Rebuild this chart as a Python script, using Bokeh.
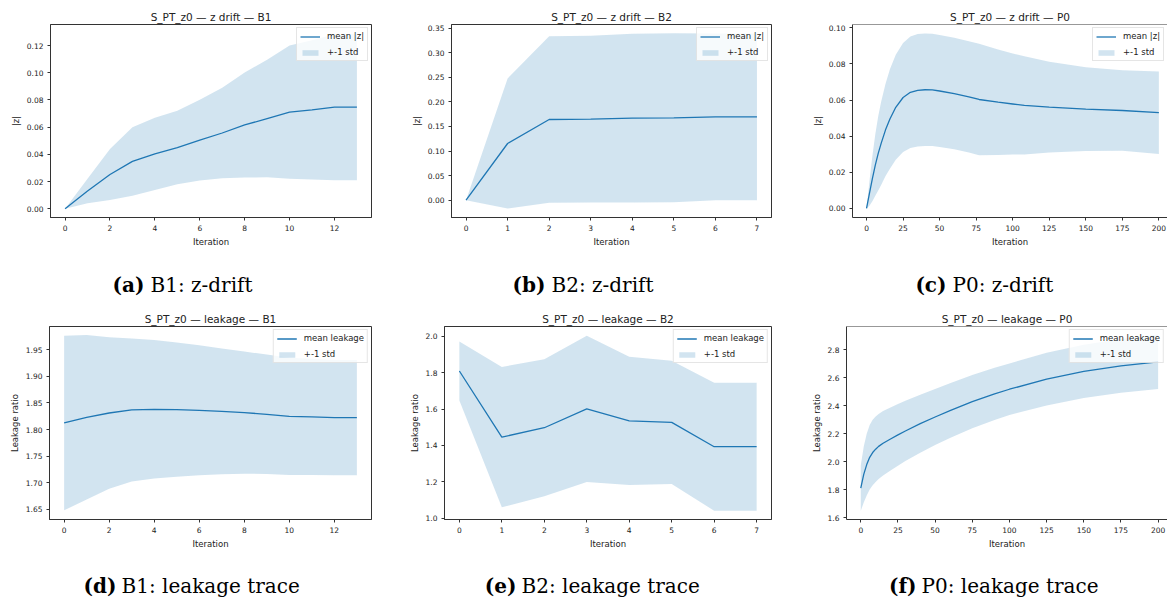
from bokeh.plotting import figure
from bokeh.layouts import column, row
from bokeh.models import Range1d, FixedTicker, PrintfTickFormatter, Legend, LegendItem, Span
from bokeh.core.properties import value
from bokeh.embed import file_html
from bokeh.resources import INLINE

BLUE = "#1f77b4"
FONT = "DejaVu Sans"
SERIF = "DejaVu Serif"
INK = "#222222"

# ---------------- data ----------------
b1_iter = list(range(14))
b1_z_mean = [0.0, 0.013, 0.0252, 0.0348, 0.0404, 0.045, 0.0505, 0.0557, 0.0616, 0.0663, 0.071, 0.0727, 0.0747, 0.0747]
b1_z_std = [0.0, 0.009, 0.0188, 0.0252, 0.0266, 0.027, 0.0297, 0.0333, 0.0386, 0.0432, 0.049, 0.0512, 0.0537, 0.0537]
b1_leak_mean = [1.8123, 1.823, 1.8311, 1.8368, 1.838, 1.8374, 1.8362, 1.8343, 1.8318, 1.8286, 1.8248, 1.8236, 1.8223, 1.8223]
b1_leak_std = [0.1645, 0.155, 0.1425, 0.1345, 0.1305, 0.1265, 0.1225, 0.1185, 0.115, 0.1125, 0.1105, 0.1095, 0.1085, 0.1085]

b2_iter = list(range(8))
b2_z_mean = [0.0, 0.1153, 0.1642, 0.1649, 0.167, 0.1676, 0.1696, 0.1696]
b2_z_std = [0.0, 0.1323, 0.1696, 0.1695, 0.1719, 0.1719, 0.1696, 0.1696]
b2_leak_mean = [1.81, 1.4455, 1.4975, 1.6015, 1.535, 1.527, 1.393, 1.393]
b2_leak_std = [0.162, 0.3865, 0.3775, 0.4025, 0.353, 0.339, 0.3528, 0.3528]

p0_z_iter = [0, 2, 4, 6, 8, 10, 13, 16, 20, 25, 30, 35, 40, 45, 50, 60, 70, 77, 90, 100, 108, 125, 150, 175, 200]
p0_z_mean = [0.0, 0.0083, 0.0165, 0.024, 0.0305, 0.036, 0.0435, 0.0495, 0.056, 0.0614, 0.0643, 0.0654, 0.0657, 0.0656,
             0.065, 0.0636, 0.0618, 0.0603, 0.0588, 0.0578, 0.057, 0.0561, 0.055, 0.0542, 0.053]
p0_z_std = [0.0, 0.0068, 0.0125, 0.017, 0.0205, 0.023, 0.0255, 0.0275, 0.029, 0.0302, 0.0308, 0.0311, 0.0311, 0.0311,
            0.031, 0.0309, 0.0308, 0.0308, 0.0292, 0.028, 0.0272, 0.0251, 0.0232, 0.0223, 0.0228]

p0_leak_iter = [0, 2, 4, 6, 8, 10, 12, 15, 20, 25, 30, 40, 50, 60, 75, 90, 100, 125, 150, 175, 200]
p0_leak_mean = [1.812, 1.91, 1.98, 2.032, 2.066, 2.09, 2.11, 2.132, 2.163, 2.192, 2.22, 2.272, 2.32, 2.365, 2.43,
                2.485, 2.518, 2.59, 2.645, 2.685, 2.714]
p0_leak_std = [0.162, 0.2, 0.22, 0.23, 0.234, 0.234, 0.232, 0.23, 0.225, 0.22, 0.215, 0.207, 0.2, 0.195, 0.19,
               0.186, 0.184, 0.188, 0.19, 0.192, 0.194]

titles = ["S_PT_z0 \u2014 z drift \u2014 B1", "S_PT_z0 \u2014 z drift \u2014 B2", "S_PT_z0 \u2014 z drift \u2014 P0",
          "S_PT_z0 \u2014 leakage \u2014 B1", "S_PT_z0 \u2014 leakage \u2014 B2", "S_PT_z0 \u2014 leakage \u2014 P0"]
caption_tags = ["(a)", "(b)", "(c)", "(d)", "(e)", "(f)"]
caption_texts = ["B1: z-drift", "B2: z-drift", "P0: z-drift",
                 "B1: leakage trace", "B2: leakage trace", "P0: leakage trace"]

ticks_b1_x = [0, 2, 4, 6, 8, 10, 12]
ticks_b2_x = [0, 1, 2, 3, 4, 5, 6, 7]
ticks_p0_x = [0, 25, 50, 75, 100, 125, 150, 175, 200]
ticks_a_y = [0.0, 0.02, 0.04, 0.06, 0.08, 0.10, 0.12]
ticks_b_y = [0.0, 0.05, 0.10, 0.15, 0.20, 0.25, 0.30, 0.35]
ticks_c_y = [0.0, 0.02, 0.04, 0.06, 0.08, 0.10]
ticks_d_y = [1.65, 1.70, 1.75, 1.80, 1.85, 1.90, 1.95]
ticks_e_y = [1.0, 1.2, 1.4, 1.6, 1.8, 2.0]
ticks_f_y = [1.6, 1.8, 2.0, 2.2, 2.4, 2.6, 2.8]


def style_axis(ax, label):
    ax.axis_label = label
    ax.axis_label_text_font = FONT
    ax.axis_label_text_font_size = "8.5px"
    ax.axis_label_text_font_style = "normal"
    ax.axis_label_text_color = INK
    ax.axis_label_standoff = 3
    ax.major_label_text_font = FONT
    ax.major_label_text_font_size = "7.5px"
    ax.major_label_text_color = INK
    ax.major_label_standoff = 4
    ax.major_tick_out = 3
    ax.major_tick_in = 0
    ax.minor_tick_out = 0
    ax.minor_tick_in = 0
    ax.axis_line_color = "#333333"
    ax.major_tick_line_color = "#333333"


def panel(x, mean, std, title, ylabel, mean_label, xr, yr, xticks, yticks, yfmt,
          frame_w, bl, br, bt, bb, open_right=False):
    lower = [m - s for m, s in zip(mean, std)]
    upper = [m + s for m, s in zip(mean, std)]
    p = figure(frame_width=frame_w, frame_height=193, x_range=Range1d(*xr), y_range=Range1d(*yr),
               output_backend="svg", toolbar_location=None, title=title,
               min_border_left=bl, min_border_right=br, min_border_top=bt, min_border_bottom=bb)
    band = p.varea(x=x, y1=lower, y2=upper, fill_color=BLUE, fill_alpha=0.2)
    ln = p.line(x, mean, line_color=BLUE, line_width=1.3)
    p.title.text_font = FONT
    p.title.text_font_size = "10.5px"
    p.title.text_font_style = "normal"
    p.title.text_color = INK
    p.title.align = "center"
    p.title.standoff = 4
    p.xgrid.visible = False
    p.ygrid.visible = False
    if open_right:
        # the right spine lies beyond the page edge in the reference; keep the top spine only
        p.outline_line_color = None
        p.add_layout(Span(location=yr[1], dimension="width", line_color="#333333", line_width=1))
    else:
        p.outline_line_color = "#333333"
        p.outline_line_width = 1
    p.background_fill_color = "white"
    p.border_fill_color = "white"
    style_axis(p.xaxis[0], "Iteration")
    style_axis(p.yaxis[0], ylabel)
    p.xaxis[0].ticker = FixedTicker(ticks=xticks)
    p.yaxis[0].ticker = FixedTicker(ticks=yticks)
    p.yaxis[0].formatter = PrintfTickFormatter(format=yfmt)
    leg = Legend(items=[LegendItem(label=mean_label, renderers=[ln]),
                        LegendItem(label="+-1 std", renderers=[band])],
                 location="top_right")
    leg.border_line_color = "#cccccc"
    leg.border_line_width = 1
    leg.background_fill_color = "white"
    leg.background_fill_alpha = 0.8
    leg.label_text_font = FONT
    leg.label_text_font_size = "8.5px"
    leg.label_text_color = INK
    leg.glyph_width = 20
    leg.glyph_height = 7
    leg.label_height = 9
    leg.label_standoff = 7
    leg.spacing = 6
    leg.padding = 3
    leg.margin = 3
    p.add_layout(leg)
    return p


pa = panel(b1_iter, b1_z_mean, b1_z_std, titles[0], "|z|", "mean |z|", (-0.65, 13.65), (-0.00645, 0.1355),
           ticks_b1_x, ticks_a_y, "%.2f", 321, 50, 34, 24, 45)
pb = panel(b2_iter, b2_z_mean, b2_z_std, titles[1], "|z|", "mean |z|", (-0.35, 7.35), (-0.0353, 0.3575),
           ticks_b2_x, ticks_b_y, "%.2f", 320, 46, 29, 24, 45)
pc = panel(p0_z_iter, p0_z_mean, p0_z_std, titles[2], "|z|", "mean |z|", (-9.6, 205.9), (-0.005, 0.1018),
           ticks_p0_x, ticks_c_y, "%.2f", 315, 52, 0, 24, 45, open_right=True)
pd = panel(b1_iter, b1_leak_mean, b1_leak_std, titles[3], "Leakage ratio", "mean leakage", (-0.65, 13.65),
           (1.6305, 1.994), ticks_b1_x, ticks_d_y, "%.2f", 322, 49, 29, 23, 41)
pe = panel(b2_iter, b2_leak_mean, b2_leak_std, titles[4], "Leakage ratio", "mean leakage", (-0.35, 7.35),
           (0.992, 2.055), ticks_b2_x, ticks_e_y, "%.1f", 327, 44, 29, 23, 41)
pf = panel(p0_leak_iter, p0_leak_mean, p0_leak_std, titles[5], "Leakage ratio", "mean leakage", (-9.6, 206.3),
           (1.588, 2.966), ticks_p0_x, ticks_f_y, "%.1f", 321, 46, 0, 23, 41, open_right=True)


def caption_fig(h, top, baseline, tag_right, text_left, tags, texts):
    c = figure(width=1167, height=h, x_range=Range1d(0, 1167), y_range=Range1d(top + h, top),
               output_backend="svg", toolbar_location=None, min_border=0, title=None,
               x_axis_location=None, y_axis_location=None)
    c.xgrid.visible = False
    c.ygrid.visible = False
    c.outline_line_color = None
    c.text(x=tag_right, y=[baseline] * len(tags), text=tags, text_align="right",
           text_baseline="alphabetic", text_font=value(SERIF), text_font_style="bold",
           text_font_size="20px", text_color="#000000")
    c.text(x=text_left, y=[baseline] * len(texts), text=texts, text_align="left",
           text_baseline="alphabetic", text_font=value(SERIF), text_font_style="normal",
           text_font_size="20px", text_color="#000000")
    return c


cap1 = caption_fig(41, 262, 284, [144, 545, 946], [150, 551, 952], caption_tags[:3], caption_texts[:3])
cap2 = caption_fig(43, 560, 585, [116, 516, 916], [121, 521, 921], caption_tags[3:], caption_texts[3:])

layout = column(row(pa, pb, pc), cap1, row(pd, pe, pf), cap2)

open("out.html", "w").write(file_html(layout, INLINE))
